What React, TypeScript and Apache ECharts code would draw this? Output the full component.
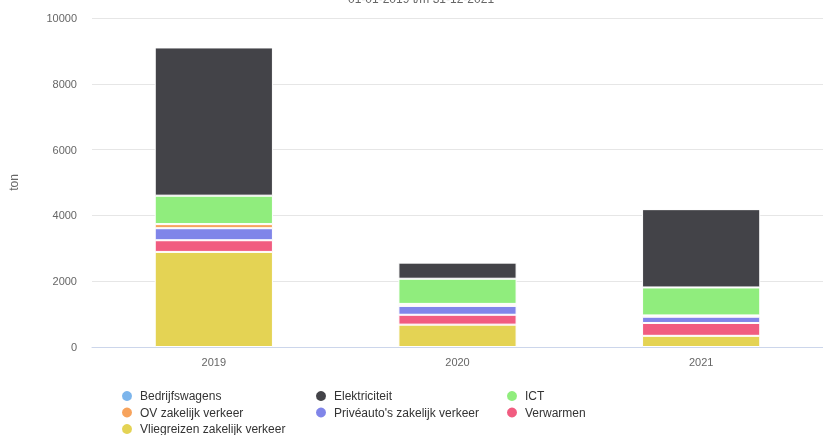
import React, { useEffect, useRef } from "react";
import * as echarts from "echarts";

const years = ["2019", "2020", "2021"];
const yTicks = [0, 2000, 4000, 6000, 8000, 10000];
const subtitle = "01-01-2019 t/m 31-12-2021";
const axisName = "ton";

const bedrijfswagens = [0, 0, 0];
const elektriciteit = [4505, 490, 2380];
const ict = [865, 765, 850];
const ovZakelijk = [125, 60, 40];
const priveauto = [365, 270, 190];
const verwarmen = [355, 300, 390];
const vliegreizen = [2890, 680, 340];

const seriesDefs = [
  { name: "Vliegreizen zakelijk verkeer", data: vliegreizen, color: "#e4d354" },
  { name: "Verwarmen", data: verwarmen, color: "#f15c80" },
  { name: "Privéauto's zakelijk verkeer", data: priveauto, color: "#8085e9" },
  { name: "OV zakelijk verkeer", data: ovZakelijk, color: "#f7a35c" },
  { name: "ICT", data: ict, color: "#90ed7d" },
  { name: "Elektriciteit", data: elektriciteit, color: "#434348" },
  { name: "Bedrijfswagens", data: bedrijfswagens, color: "#7cb5ec" },
];

const legendRows = [
  ["Bedrijfswagens", "Elektriciteit", "ICT"],
  ["OV zakelijk verkeer", "Privéauto's zakelijk verkeer", "Verwarmen"],
  ["Vliegreizen zakelijk verkeer"],
];
const legendLefts = [120, 314, 505];
const legendTops = [389, 405.5, 422];

const FONT = "'Liberation Sans', Arial, Helvetica, sans-serif";

export default function App() {
  const ref = useRef<HTMLDivElement>(null);
  useEffect(() => {
    if (!ref.current) return;
    const chart = echarts.init(ref.current, undefined, { renderer: "svg" });
    const legends: any[] = [];
    legendRows.forEach((row, r) => {
      row.forEach((name, c) => {
        legends.push({
          data: [name],
          left: legendLefts[c],
          top: legendTops[r],
          itemWidth: 16,
          itemHeight: 12,
          icon: "circle",
          padding: 0,
          textStyle: { fontSize: 12, color: "#333333", fontFamily: FONT },
        });
      });
    });
    chart.setOption({
      animation: false,
      textStyle: { fontFamily: FONT },
      graphic: [
        {
          type: "text",
          x: 421,
          y: -1,
          style: {
            text: subtitle,
            fontSize: 12,
            fill: "#666666",
            fontFamily: FONT,
            align: "center",
            verticalAlign: "middle",
          },
        },
      ],
      grid: { left: 92, right: -6, top: 18, bottom: 88, containLabel: false },
      legend: legends,
      xAxis: {
        type: "category",
        data: years,
        axisLine: { lineStyle: { color: "#ccd6eb" } },
        axisTick: { show: false },
        axisLabel: { color: "#666666", fontSize: 11, margin: 9, fontFamily: FONT },
      },
      yAxis: {
        type: "value",
        min: yTicks[0],
        max: yTicks[yTicks.length - 1],
        interval: 2000,
        name: axisName,
        nameLocation: "middle",
        nameRotate: 90,
        nameGap: 72,
        nameTextStyle: { color: "#666666", fontSize: 12, fontFamily: FONT },
        axisLabel: {
          color: "#666666",
          fontSize: 11,
          margin: 15,
          fontFamily: FONT,
          formatter: (v: number) => String(v),
        },
        splitLine: { lineStyle: { color: "#e6e6e6" } },
        axisLine: { show: false },
        axisTick: { show: false },
      },
      series: seriesDefs.map((s) => ({
        name: s.name,
        type: "bar",
        stack: "total",
        data: s.data,
        barWidth: "48.5%",
        itemStyle: { color: s.color, borderColor: "#ffffff", borderWidth: 1 },
      })),
    });
    return () => chart.dispose();
  }, []);
  return (
    <div
      ref={ref}
      style={{ position: "fixed", left: 0, top: 0, width: 823, height: 435 }}
    />
  );
}
